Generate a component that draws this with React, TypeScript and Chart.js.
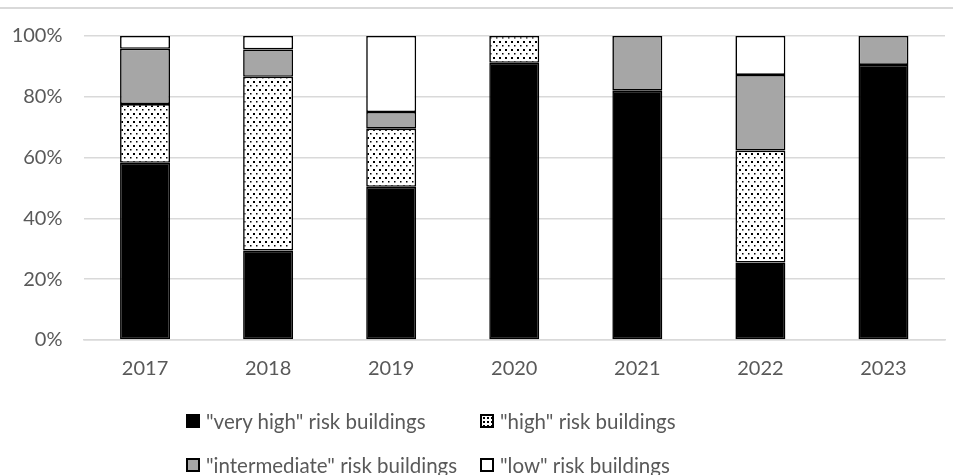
import React, { useEffect, useRef } from "react";
import { Chart, registerables } from "chart.js";

Chart.register(...registerables);

const categories = ["2017", "2018", "2019", "2020", "2021", "2022", "2023"];
const veryHigh = [58.3, 29.4, 50.4, 91.2, 82.0, 25.5, 90.5];
const high = [19.3, 57.2, 19.1, 8.8, 0, 36.8, 0];
const intermediate = [18.2, 9.0, 5.5, 0, 18.0, 24.9, 9.5];
const low = [4.2, 4.4, 25.0, 0, 0, 12.8, 0];
const yTicks = [0, 20, 40, 60, 80, 100];
const seriesLabels = [
  '"very high" risk buildings',
  '"high" risk buildings',
  '"intermediate" risk buildings',
  '"low" risk buildings',
];

const FONT = "Lato, 'Open Sans', sans-serif";
const TEXT = "#595959";

function makeDots(): CanvasPattern | string {
  const c = document.createElement("canvas");
  c.width = 6;
  c.height = 8;
  const g = c.getContext("2d");
  if (!g) return "#fff";
  g.fillStyle = "#ffffff";
  g.fillRect(0, 0, 6, 8);
  g.fillStyle = "#000000";
  g.fillRect(1, 1, 2, 2);
  g.fillRect(4, 5, 1.5, 1.5);
  const p = g.createPattern(c, "repeat");
  return p || "#fff";
}

export default function App() {
  const ref = useRef<HTMLCanvasElement>(null);

  useEffect(() => {
    if (!ref.current) return;
    const dots = makeDots();
    const common = {
      borderColor: "#000000",
      borderWidth: 1.6,
      borderSkipped: false as const,
      categoryPercentage: 1,
      barPercentage: 0.406,
    };
    const chart = new Chart(ref.current, {
      type: "bar",
      data: {
        labels: categories,
        datasets: [
          { label: seriesLabels[0], data: veryHigh, backgroundColor: "#000000", ...common },
          { label: seriesLabels[1], data: high, backgroundColor: dots as any, ...common },
          { label: seriesLabels[2], data: intermediate, backgroundColor: "#a6a6a6", ...common },
          { label: seriesLabels[3], data: low, backgroundColor: "#ffffff", ...common },
        ],
      },
      options: {
        animation: false,
        responsive: false,
        devicePixelRatio: 1,
        layout: { padding: { left: 0, right: 8, top: 36, bottom: 95 } },
        plugins: { legend: { display: false }, tooltip: { enabled: false } },
        scales: {
          x: {
            stacked: true,
            grid: { display: false, drawTicks: false },
            border: { display: true, color: "#d9d9d9", width: 1.5 },
            ticks: { color: TEXT, font: { family: FONT, size: 20 }, padding: 17 },
            afterFit: (s: any) => {
              s.height = 40;
            },
          },
          y: {
            stacked: true,
            min: 0,
            max: 100,
            grid: { color: "#d9d9d9", lineWidth: 1.5, drawTicks: false },
            border: { display: false },
            afterBuildTicks: (s: any) => {
              s.ticks = yTicks.map((v) => ({ value: v }));
            },
            ticks: {
              color: TEXT,
              font: { family: FONT, size: 20 },
              padding: 21,
              callback: (v: any) => v + "%",
            },
            afterFit: (s: any) => {
              s.width = 83.5;
            },
          },
        },
      },
    });
    return () => chart.destroy();
  }, []);

  const marker = (bg: string, extra: React.CSSProperties = {}) => (
    <span
      style={{
        display: "inline-block",
        width: 10,
        height: 10,
        border: "2px solid #000",
        background: bg,
        marginRight: 6,
        boxSizing: "content-box",
        ...extra,
      }}
    />
  );

  const itemStyle: React.CSSProperties = {
    position: "absolute",
    display: "flex",
    alignItems: "center",
    fontFamily: FONT,
    fontSize: 20.5,
    color: TEXT,
    whiteSpace: "nowrap",
    lineHeight: "22px",
  };

  return (
    <div
      style={{
        position: "fixed",
        left: 0,
        top: 0,
        width: 953,
        height: 475,
        background: "#fff",
        overflow: "hidden",
      }}
    >
      <div style={{ position: "absolute", left: 0, top: 7, width: 953, height: 1.5, background: "#d9d9d9" }} />
      <canvas ref={ref} width={953} height={475} style={{ position: "absolute", left: 0, top: 0 }} />
      <div style={{ ...itemStyle, left: 186, top: 410 }}>
        {marker("#000")}
        {seriesLabels[0]}
      </div>
      <div style={{ ...itemStyle, left: 480, top: 410 }}>
        {marker("radial-gradient(circle, #000 1px, #fff 1.5px) 0 0 / 4px 4px")}
        {seriesLabels[1]}
      </div>
      <div style={{ ...itemStyle, left: 186, top: 454 }}>
        {marker("#a6a6a6")}
        {seriesLabels[2]}
      </div>
      <div style={{ ...itemStyle, left: 480, top: 454 }}>
        {marker("#fff")}
        {seriesLabels[3]}
      </div>
    </div>
  );
}
